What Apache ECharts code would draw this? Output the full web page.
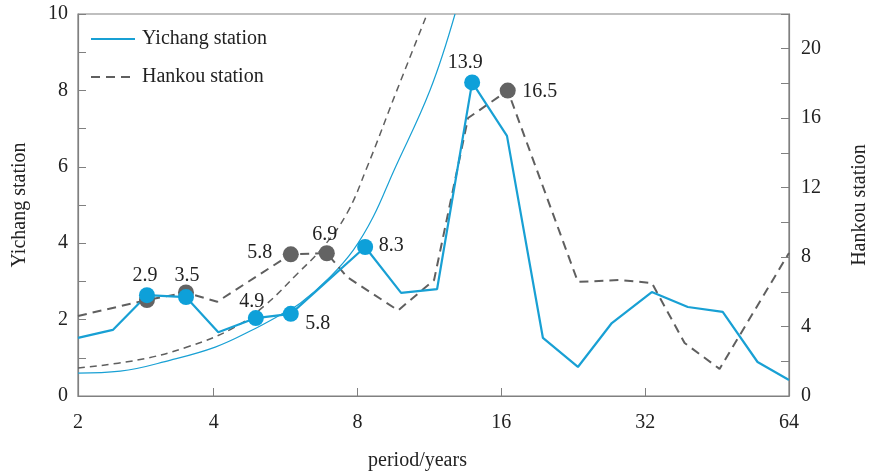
<!DOCTYPE html>
<html><head><meta charset="utf-8">
<script src="https://cdn.jsdelivr.net/npm/echarts@6/dist/echarts.min.js"></script>
<style>html,body{margin:0;padding:0;background:#fff}#c{width:869px;height:476px}</style>
</head><body><div id="c"></div>
<script>
// ---- data (periods in years) ----
const yichangPeriods = [2.08, 2.46, 2.9, 3.5, 4.09, 4.9, 5.8, 8.3, 9.87, 11.74, 13.9, 16.44, 19.55, 23.14, 27.25, 33.04, 39.3, 46.5, 55.0, 64];
const yichangValues  = [1.52, 1.73, 2.64, 2.59, 1.67, 2.04, 2.15, 3.90, 2.70, 2.80, 8.21, 6.81, 1.52, 0.76, 1.91, 2.72, 2.33, 2.20, 0.89, 0.42];
const hankouPeriods = [2.08, 2.9, 3.5, 4.07, 5.8, 6.9, 7.61, 9.73, 11.57, 13.63, 16.5, 23.14, 28.3, 33.04, 38.7, 45.8, 64];
const hankouValues  = [4.61, 5.53, 5.96, 5.43, 8.16, 8.22, 6.85, 4.93, 6.68, 16.01, 17.59, 6.57, 6.68, 6.51, 3.05, 1.56, 8.24];

const yichangPeakPeriods = [2.9, 3.5, 4.9, 5.8, 8.3, 13.9];
const yichangPeakValues  = [2.64, 2.59, 2.04, 2.15, 3.90, 8.21];
const yichangPeakLabels  = ['2.9', '', '4.9', '5.8', '8.3', '13.9'];
const hankouPeakPeriods = [2.9, 3.5, 5.8, 6.9, 16.5];
const hankouPeakValues  = [5.53, 5.96, 8.16, 8.22, 17.59];
const hankouPeakLabels  = ['', '3.5', '5.8', '6.9', '16.5'];

// significance (red-noise) curves
const yichangCurvePeriods = [2.08, 2.55, 3.25, 4.03, 4.77, 5.51, 6.07, 7.01, 7.84, 8.63, 9.50, 11.35, 12.80];
const yichangCurveValues  = [0.60, 0.65, 0.94, 1.28, 1.70, 2.12, 2.43, 3.12, 3.82, 4.69, 5.86, 8.01, 10.0];
const hankouCurvePeriods = [2.08, 2.77, 3.52, 4.40, 5.13, 5.98, 6.78, 7.61, 8.38, 9.68, 11.19];
const hankouCurveValues  = [1.61, 2.07, 2.82, 3.92, 5.24, 7.03, 8.58, 10.54, 13.19, 17.63, 22.0];

const leftTicks = [0, 2, 4, 6, 8, 10];
const rightTicks = [0, 4, 8, 12, 16, 20];

// ---- styles ----
const FONT = 'Liberation Serif';
const BLUE = '#18a0d4';
const GRAY = '#5f5f5f';
const AXIS = '#808080';
const yLabelOffsets = [[-2, -19], null, [-4, -16], [27, 10], [26, -1], [-7, -20]];
const hLabelOffsets = [null, [1, -17], [-31, -2], [-2, -19], [32, 1]];

const zip = (a, b) => a.map((v, i) => [v, b[i]]);
function peakData(periods, values, labels, offsets) {
  return periods.map((p, i) => ({
    value: [p, values[i]],
    label: labels[i] ? { show: true, formatter: labels[i], position: 'inside', offset: offsets[i] } : { show: false }
  }));
}

const chart = echarts.init(document.getElementById('c'), null, { renderer: 'canvas' });
const txt = { fontFamily: FONT, fontSize: 20, color: '#222' };

chart.setOption({
  animation: false,
  backgroundColor: '#fff',
  textStyle: { fontFamily: FONT },
  grid: { left: 78, right: 80, top: 14, bottom: 80, show: true, borderColor: AXIS, borderWidth: 1.2,
          containLabel: false, outerBoundsMode: 'none' },
  legend: {
    data: ['Yichang station', 'Hankou station'],
    orient: 'vertical', left: 85, top: 24, padding: 5,
    itemWidth: 44, itemHeight: 14, itemGap: 18,
    itemStyle: { opacity: 0 },
    textStyle: Object.assign({}, txt, { padding: [0, 0, 0, 2] })
  },
  xAxis: {
    type: 'log', logBase: 2, min: 2.08, max: 64,
    name: 'period/years', nameLocation: 'middle', nameGap: 55,
    nameTextStyle: Object.assign({}, txt, { padding: [0, 32, 0, 0] }),
    axisLine: { lineStyle: { color: AXIS, width: 1.2 } },
    axisTick: { inside: true, length: 8, lineStyle: { color: AXIS } },
    axisLabel: Object.assign({}, txt, { margin: 17, showMinLabel: true, showMaxLabel: true,
      formatter: v => String(Math.round(v)) }),
    splitLine: { show: false }
  },
  yAxis: [{
    type: 'value', min: 0, max: 10, interval: 1, position: 'left',
    name: 'Yichang station', nameLocation: 'middle', nameGap: 48, nameTextStyle: txt,
    axisLine: { show: true, lineStyle: { color: AXIS, width: 1.2 } },
    axisTick: { inside: true, length: 8, lineStyle: { color: AXIS } },
    axisLabel: Object.assign({}, txt, { margin: 10, formatter: v => leftTicks.includes(v) ? String(v) : '' }),
    splitLine: { show: false }
  }, {
    type: 'value', min: 0, max: 22, interval: 2, position: 'right',
    name: 'Hankou station', nameLocation: 'middle', nameGap: 61, nameTextStyle: txt,
    axisLine: { show: true, lineStyle: { color: AXIS, width: 1.2 } },
    axisTick: { inside: true, length: 8, lineStyle: { color: AXIS } },
    axisLabel: Object.assign({}, txt, { margin: 12, formatter: v => rightTicks.includes(v) ? String(v) : '' }),
    splitLine: { show: false }
  }],
  series: [
    { name: 'Yichang curve', type: 'line', yAxisIndex: 0, symbol: 'none', smooth: 0.4,
      data: zip(yichangCurvePeriods, yichangCurveValues), lineStyle: { color: BLUE, width: 1.2 }, z: 2 },
    { name: 'Hankou curve', type: 'line', yAxisIndex: 1, symbol: 'none', smooth: 0.4,
      data: zip(hankouCurvePeriods, hankouCurveValues), lineStyle: { color: GRAY, width: 1.5, type: [7, 5] }, z: 2 },
    { name: 'Hankou station', type: 'line', yAxisIndex: 1, symbol: 'none', color: GRAY,
      data: zip(hankouPeriods, hankouValues), lineStyle: { color: GRAY, width: 2, type: [9, 6] }, z: 3 },
    { name: 'Yichang station', type: 'line', yAxisIndex: 0, symbol: 'none', color: BLUE,
      data: zip(yichangPeriods, yichangValues), lineStyle: { color: BLUE, width: 2.2 }, z: 4 },
    { name: 'Hankou peaks', type: 'scatter', yAxisIndex: 1, symbolSize: 16,
      itemStyle: { color: '#636363', opacity: 1 }, label: txt,
      data: peakData(hankouPeakPeriods, hankouPeakValues, hankouPeakLabels, hLabelOffsets), z: 5 },
    { name: 'Yichang peaks', type: 'scatter', yAxisIndex: 0, symbolSize: 16,
      itemStyle: { color: '#0ea0d9', opacity: 1 }, label: txt,
      data: peakData(yichangPeakPeriods, yichangPeakValues, yichangPeakLabels, yLabelOffsets), z: 6 }
  ]
});
</script></body></html>
